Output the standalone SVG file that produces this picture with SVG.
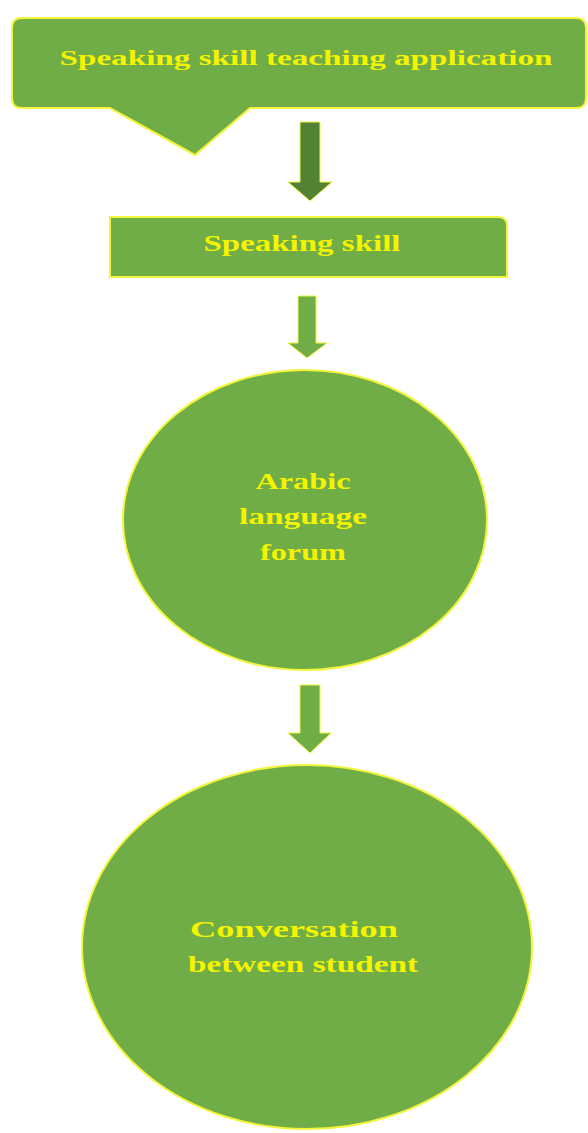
<svg xmlns="http://www.w3.org/2000/svg" width="588" height="1133" viewBox="0 0 588 1133">
<style>
.shape{fill:#70ad47;stroke:#f2f53a;stroke-width:2}
.lbl{font-family:"Liberation Serif","Times New Roman",serif;font-weight:bold;fill:#f4f400;text-anchor:middle}
</style>
<rect width="588" height="1133" fill="#ffffff"/>
<g id="node-app">
<path class="shape" d="M22,18 H576 Q586,18 586,28 V98 Q586,108 576,108 H250 L195,155 L110,108 H22 Q12,108 12,98 V28 Q12,18 22,18 Z"/>
<text class="lbl" x="306" y="65" font-size="22" textLength="493" lengthAdjust="spacingAndGlyphs">Speaking skill teaching application</text>
</g>
<g id="node-speaking">
<path class="shape" d="M110,217 H498 Q507,217 507,226 V277 H110 Z"/>
<text class="lbl" x="302" y="251" font-size="23" textLength="197" lengthAdjust="spacingAndGlyphs">Speaking skill</text>
</g>
<g id="node-forum">
<ellipse class="shape" cx="305" cy="520" rx="182" ry="150"/>
<text class="lbl" x="303" y="489" font-size="23" textLength="95" lengthAdjust="spacingAndGlyphs">Arabic</text>
<text class="lbl" x="303" y="524" font-size="23" textLength="128" lengthAdjust="spacingAndGlyphs">language</text>
<text class="lbl" x="303" y="560" font-size="23" textLength="86" lengthAdjust="spacingAndGlyphs">forum</text>
</g>
<g id="node-conversation">
<ellipse class="shape" cx="307" cy="947" rx="225" ry="182"/>
<text class="lbl" x="294" y="937" font-size="23" textLength="208" lengthAdjust="spacingAndGlyphs">Conversation</text>
<text class="lbl" x="303" y="972" font-size="23" textLength="230" lengthAdjust="spacingAndGlyphs">between student</text>
</g>
<g id="connectors">
<path d="M300,122 H320 V182 H332 L310,201 L288,182 H300 Z" fill="#548235" stroke="#f2f53a" stroke-width="1"/>
<path d="M298,296 H316 V343 H327 L307,358 L288,343 H298 Z" fill="#70ad47" stroke="#f2f53a" stroke-width="1"/>
<path d="M300,685 H320 V733 H331 L310,753 L288,733 H300 Z" fill="#70ad47" stroke="#f2f53a" stroke-width="1"/>
</g>
</svg>
